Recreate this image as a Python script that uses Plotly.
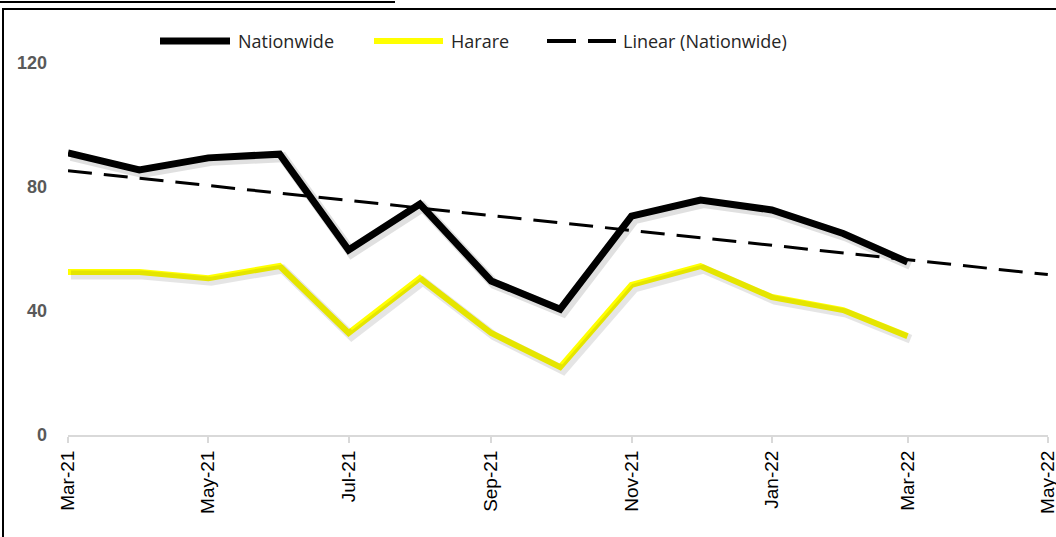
import numpy as np
import pandas as pd
import plotly.graph_objects as go

months = ["2021-03-01", "2021-04-01", "2021-05-01", "2021-06-01", "2021-07-01", "2021-08-01",
          "2021-09-01", "2021-10-01", "2021-11-01", "2021-12-01", "2022-01-01", "2022-02-01",
          "2022-03-01"]
nationwide = [91, 85.5, 89.4, 90.6, 59.7, 74.5, 49.7, 40.6, 70.6, 75.8, 72.6, 65, 55.8]
harare = [52.6, 52.6, 50.6, 54.5, 32.9, 50.6, 32.9, 21.9, 48.4, 54.5, 44.5, 40.3, 31.9]
trend_end = "2022-05-01"  # linear trend forecast forward two periods
y_ticks = [0, 40, 80, 120]

# Linear trend (Excel-style, on date serial)
dates = pd.to_datetime(months)
xs = np.array([(d - dates[0]).days for d in dates], dtype=float)
slope, intercept = np.polyfit(xs, np.array(nationwide), 1)
t_dates = [dates[0], pd.Timestamp(trend_end)]
t_x = np.array([(d - dates[0]).days for d in t_dates], dtype=float)
t_y = intercept + slope * t_x

W, H = 1056, 537
L, R, T, B = 68, 8, 63, 102
pw, ph = W - L - R, H - T - B

def px(x):
    return (x - L) / pw

def py(y):
    return (H - B - y) / ph

x_start = pd.Timestamp("2021-03-01")
x_end = pd.Timestamp("2022-05-01")
days_total = (x_end - x_start).days
pad = pd.Timedelta(hours=2)
x_range = [str(x_start), str(x_end + pad)]
sh_dx = pd.Timedelta(days=3 * days_total / pw)
sh_dy = 3 * 120 / ph

fig = go.Figure()

# soft drop shadows on overlaid, slightly shifted axes
fig.add_trace(go.Scatter(x=months, y=nationwide, mode="lines", xaxis="x2", yaxis="y2",
                         line=dict(color="rgba(0,0,0,0.12)", width=10), hoverinfo="skip", showlegend=False))
fig.add_trace(go.Scatter(x=months, y=harare, mode="lines", xaxis="x2", yaxis="y2",
                         line=dict(color="rgba(0,0,0,0.10)", width=9), hoverinfo="skip", showlegend=False))

fig.add_trace(go.Scatter(x=t_dates, y=t_y, mode="lines", name="Linear (Nationwide)",
                         line=dict(color="black", width=3, dash="24px,12px")))
fig.add_trace(go.Scatter(x=months, y=harare, mode="lines", name="Harare",
                         line=dict(color="#FFFF00", width=6)))
fig.add_trace(go.Scatter(x=months, y=nationwide, mode="lines", name="Nationwide",
                         line=dict(color="black", width=7)))

shapes = [
    # frame
    dict(type="line", xref="paper", yref="paper", x0=px(3), x1=px(3), y0=py(9), y1=py(540),
         line=dict(color="black", width=2)),
    dict(type="line", xref="paper", yref="paper", x0=px(2), x1=px(1060), y0=py(9), y1=py(9),
         line=dict(color="black", width=2)),
    dict(type="line", xref="paper", yref="paper", x0=px(0), x1=px(395), y0=py(2), y1=py(2),
         line=dict(color="black", width=2)),
    # legend symbols
    dict(type="line", xref="paper", yref="paper", x0=px(160), x1=px(230), y0=py(41), y1=py(41),
         line=dict(color="black", width=7)),
    dict(type="line", xref="paper", yref="paper", x0=px(374), x1=px(443), y0=py(41), y1=py(41),
         line=dict(color="#FFFF00", width=6)),
    dict(type="line", xref="paper", yref="paper", x0=px(547), x1=px(576), y0=py(41), y1=py(41),
         line=dict(color="black", width=4)),
    dict(type="line", xref="paper", yref="paper", x0=px(588), x1=px(616), y0=py(41), y1=py(41),
         line=dict(color="black", width=4)),
]

legend_font = dict(family="Open Sans, Liberation Sans, sans-serif", size=18, color="#262626")
annotations = [
    dict(x=px(236), y=py(41), xref="paper", yref="paper", text="Nationwide", showarrow=False,
         xanchor="left", yanchor="middle", font=legend_font),
    dict(x=px(449), y=py(41), xref="paper", yref="paper", text="Harare", showarrow=False,
         xanchor="left", yanchor="middle", font=legend_font),
    dict(x=px(621), y=py(41), xref="paper", yref="paper", text="Linear (Nationwide)", showarrow=False,
         xanchor="left", yanchor="middle", font=legend_font),
]

fig.update_layout(
    width=W, height=H,
    margin=dict(l=L, r=R, t=T, b=B, autoexpand=False),
    paper_bgcolor="white", plot_bgcolor="white",
    showlegend=False,
    shapes=shapes,
    annotations=annotations,
    xaxis=dict(type="date", range=x_range, tick0="2021-03-01", dtick="M2", tickformat="%b-%y",
               tickangle=-90, showgrid=False, zeroline=False, automargin=False,
               showline=True, linecolor="#D9D9D9", linewidth=2,
               ticks="outside", ticklen=6, tickcolor="#D9D9D9", tickwidth=2,
               ticklabeloverflow="allow",
               tickfont=dict(family="Liberation Sans, Arial, sans-serif", size=19, color="black"),
               fixedrange=True),
    yaxis=dict(range=[0, 120], tickvals=y_ticks, showgrid=False, zeroline=False, showline=False,
               ticks="", ticklabelstandoff=20, automargin=False,
               tickfont=dict(family="Liberation Sans, Arial, sans-serif", size=18, color="#595959",
                             weight="bold"),
               fixedrange=True),
    xaxis2=dict(type="date", overlaying="x",
                range=[str(x_start - sh_dx), str(x_end + pad - sh_dx)],
                visible=False, fixedrange=True),
    yaxis2=dict(overlaying="y", range=[sh_dy, 120 + sh_dy], visible=False, fixedrange=True),
)

fig.write_html("out.html", config={"displayModeBar": False},
               post_script="document.body.style.margin='0';document.body.style.overflow='hidden';")
